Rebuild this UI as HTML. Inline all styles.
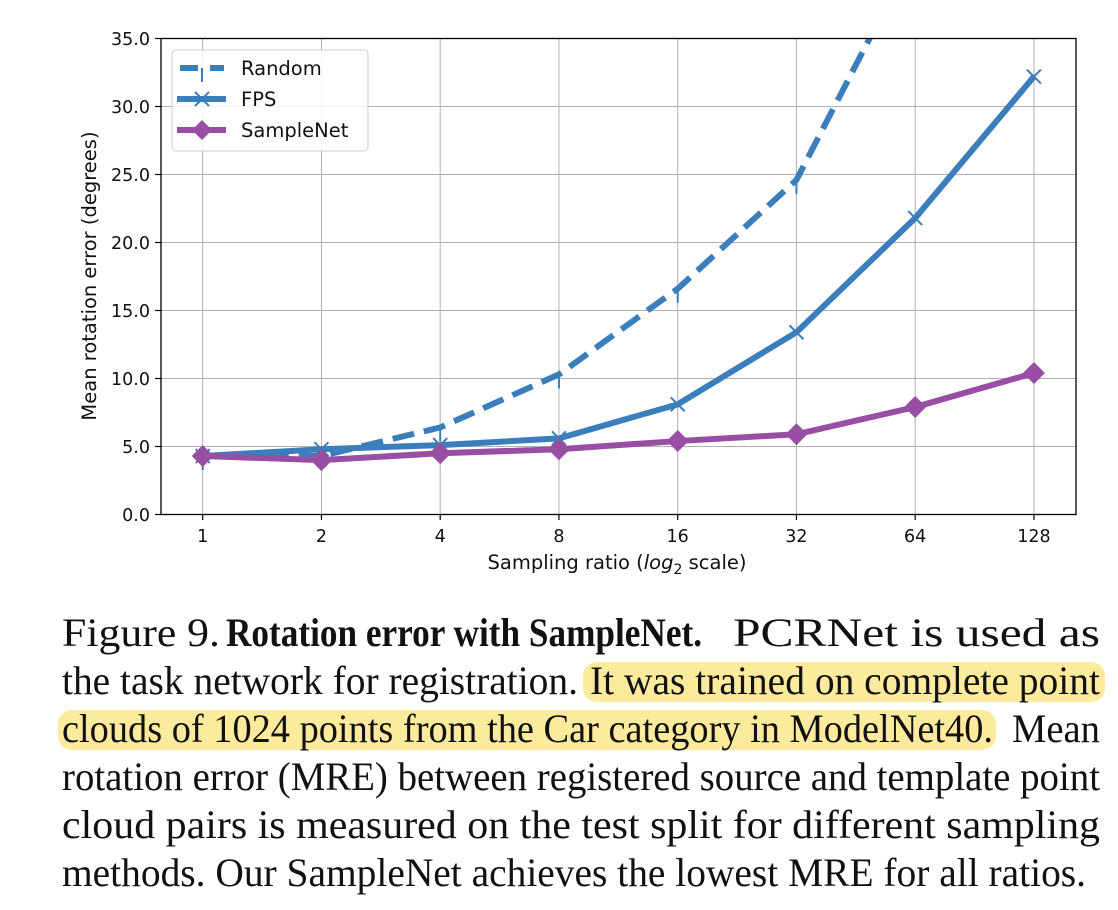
<!DOCTYPE html>
<html><head><meta charset="utf-8"><style>
body{margin:0;background:#fff;}
svg{display:block;}
.tick{font-family:"DejaVu Sans","Liberation Sans",sans-serif;font-size:17.5px;fill:#111;}
.cap{font-family:"Liberation Serif",serif;font-size:40px;fill:#111;}
</style></head><body>
<svg id="chart" width="1118" height="910" xmlns="http://www.w3.org/2000/svg">
<defs><clipPath id="plotclip"><rect x="161" y="38.5" width="915" height="476"/></clipPath></defs>
<g id="grid"></g>
<g id="series" clip-path="url(#plotclip)"></g>
<rect x="161" y="38.5" width="915" height="476" fill="none" stroke="#000" stroke-width="1.3"/>
<g id="axes"></g>
<text x="617" y="569" text-anchor="middle" class="tick" style="font-size:19.5px">Sampling ratio (<tspan font-style="italic">log</tspan><tspan font-size="14" dy="5">2</tspan><tspan dy="-5"> scale)</tspan></text>
<text transform="translate(96,276) rotate(-90)" text-anchor="middle" class="tick" style="font-size:19.5px">Mean rotation error (degrees)</text>
<g>
<rect x="172" y="50" width="196" height="101" rx="4" fill="#fff" fill-opacity="0.85" stroke="#ccc"/>
<g>
<line x1="180" y1="68" x2="198" y2="68" stroke="#3a7ebb" stroke-width="6"/><line x1="210" y1="68" x2="224" y2="68" stroke="#3a7ebb" stroke-width="6"/><line x1="202" y1="68" x2="202" y2="82" stroke="#3a7ebb" stroke-width="2"/>
<text x="241" y="75" class="tick" style="font-size:19.5px">Random</text></g>
<g>
<line x1="177" y1="99" x2="226" y2="99" stroke="#3a7ebb" stroke-width="6"/><path d="M195 92 L209 106 M209 92 L195 106" stroke="#3a7ebb" stroke-width="2"/>
<text x="241" y="106" class="tick" style="font-size:19.5px">FPS</text></g>
<g>
<line x1="177" y1="130" x2="226" y2="130" stroke="#984ea3" stroke-width="6"/><path d="M202 120 L212 130 L202 140 L192 130 Z" fill="#984ea3"/>
<text x="241" y="137" class="tick" style="font-size:19.5px">SampleNet</text></g>
</g>
<g>
<rect x="583" y="662" width="522" height="40" rx="14" fill="#fdeb9d"/>
<rect x="58" y="710" width="938" height="40" rx="14" fill="#fdeb9d"/>
<text class="cap" x="62" y="646" textLength="158" lengthAdjust="spacingAndGlyphs">Figure 9.</text>
<text class="cap" x="226" y="646" font-weight="bold" textLength="476" lengthAdjust="spacingAndGlyphs">Rotation error with SampleNet.</text>
<text class="cap" x="733" y="646" textLength="367" lengthAdjust="spacingAndGlyphs">PCRNet is used as</text>
<text class="cap" x="62" y="694" textLength="516" lengthAdjust="spacingAndGlyphs">the task network for registration.</text>
<text class="cap" x="590" y="694" textLength="510" lengthAdjust="spacingAndGlyphs">It was trained on complete point</text>
<text class="cap" x="62" y="742" textLength="931" lengthAdjust="spacingAndGlyphs">clouds of 1024 points from the Car category in ModelNet40.</text>
<text class="cap" x="1012" y="742" textLength="88" lengthAdjust="spacingAndGlyphs">Mean</text>
<text class="cap" x="62" y="790" textLength="1038" lengthAdjust="spacingAndGlyphs">rotation error (MRE) between registered source and template point</text>
<text class="cap" x="62" y="838" textLength="1038" lengthAdjust="spacingAndGlyphs">cloud pairs is measured on the test split for different sampling</text>
<text class="cap" x="62" y="886" textLength="1024" lengthAdjust="spacingAndGlyphs">methods. Our SampleNet achieves the lowest MRE for all ratios.</text>
</g>
</svg>
<script>
const categories = [1, 2, 4, 8, 16, 32, 64, 128];
const yTicks = [0, 5, 10, 15, 20, 25, 30, 35];
const randomVals = [4.3, 4.3, 6.4, 10.3, 16.6, 24.6, 41.5, 60];
const fpsVals = [4.3, 4.8, 5.1, 5.6, 8.1, 13.4, 21.8, 32.2];
const sampleNetVals = [4.3, 4.0, 4.5, 4.8, 5.4, 5.9, 7.9, 10.4];

const NS = "http://www.w3.org/2000/svg";
const xS = i => 202.7 + i * 118.75;
const yS = v => 514.5 - v * 476 / 35;
function mk(tag, attrs, parent){const e=document.createElementNS(NS,tag);for(const k in attrs)e.setAttribute(k,attrs[k]);parent.appendChild(e);return e;}
const grid=document.getElementById('grid'), axes=document.getElementById('axes'), series=document.getElementById('series');
categories.forEach((c,i)=>{
  const g=mk('line',{x1:xS(i),x2:xS(i),y1:38.5,y2:514.5,stroke:'#b0b0b0','stroke-width':1},grid);
  
  
  mk('line',{x1:xS(i),x2:xS(i),y1:514.5,y2:520,stroke:'#000','stroke-width':1.2},axes);
  const t=mk('text',{x:xS(i),y:542,'text-anchor':'middle',class:'tick'},axes);
  t.textContent=c;
  
  
});
yTicks.forEach(v=>{
  const g=mk('line',{x1:161,x2:1076,y1:yS(v),y2:yS(v),stroke:'#b0b0b0','stroke-width':1},grid);
  
  
  mk('line',{x1:155,x2:161,y1:yS(v),y2:yS(v),stroke:'#000','stroke-width':1.2},axes);
  const t=mk('text',{x:150,y:yS(v)+6.5,'text-anchor':'end',class:'tick'},axes);
  t.textContent=v.toFixed(1);
  
  
});
function pts(vals){return vals.map((v,i)=>xS(i)+','+yS(v)).join(' ');}
const rl=mk('polyline',{points:pts(randomVals),fill:'none',stroke:'#3a7ebb','stroke-width':6,'stroke-dasharray':'22,10'},series);


randomVals.forEach((v,i)=>{const m=mk('line',{x1:xS(i),x2:xS(i),y1:yS(v),y2:yS(v)+14,stroke:'#3a7ebb','stroke-width':2},series);
  
  });
const fl=mk('polyline',{points:pts(fpsVals),fill:'none',stroke:'#3a7ebb','stroke-width':6},series);


fpsVals.forEach((v,i)=>{const x=xS(i),y=yS(v);const m=mk('path',{d:`M${x-7} ${y-7} L${x+7} ${y+7} M${x+7} ${y-7} L${x-7} ${y+7}`,stroke:'#3a7ebb','stroke-width':2},series);
  
  });
const sl=mk('polyline',{points:pts(sampleNetVals),fill:'none',stroke:'#984ea3','stroke-width':6},series);


sampleNetVals.forEach((v,i)=>{const x=xS(i),y=yS(v);const m=mk('path',{d:`M${x} ${y-11} L${x+11} ${y} L${x} ${y+11} L${x-11} ${y} Z`,fill:'#984ea3'},series);
  
  });
</script>
</body></html>
